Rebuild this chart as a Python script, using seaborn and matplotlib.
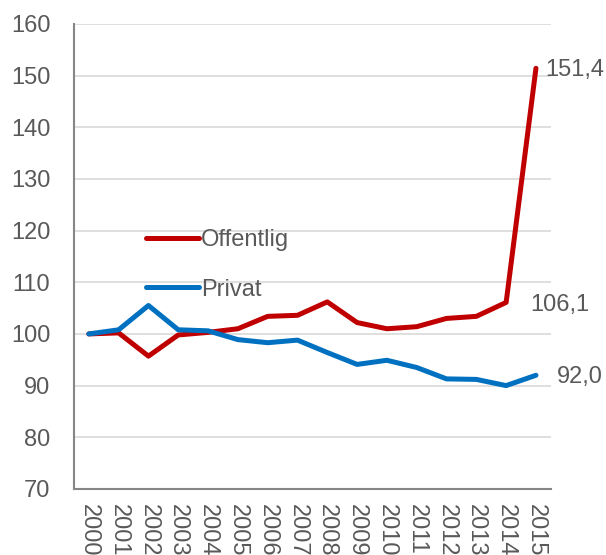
import matplotlib
matplotlib.use('Agg')
import matplotlib.pyplot as plt
import numpy as np
import pandas as pd
import seaborn as sns

# data
years = [str(y) for y in range(2000, 2016)]
offentlig = [100.0, 100.2, 95.7, 99.8, 100.3, 101.0, 103.4, 103.6, 106.2,
             102.2, 101.0, 101.4, 103.0, 103.4, 106.1, 151.4]
privat = [100.0, 100.8, 105.5, 100.8, 100.6, 98.9, 98.3, 98.8, 96.4,
          94.1, 94.9, 93.5, 91.3, 91.2, 90.0, 92.0]
series_names = ['Offentlig', 'Privat']
end_labels = ['151,4', '106,1', '92,0']
colors = {'Offentlig': '#C00000', 'Privat': '#0070C0'}

df = pd.DataFrame({'year': years * 2,
                   'value': offentlig + privat,
                   'serie': [series_names[0]] * len(years) + [series_names[1]] * len(years)})

sns.set_style('white')
plt.rcParams['font.family'] = ['Liberation Sans', 'DejaVu Sans']
text_col = '#595959'
fs = 17

fig = plt.figure(figsize=(6.06, 5.55), dpi=100)
ax = fig.add_axes([0.122, 0.119, 0.787, 0.838])

sns.lineplot(data=df, x='year', y='value', hue='serie', palette=colors,
             linewidth=3.6, sort=False, ax=ax)

ax.set_xlim(-0.5, len(years) - 0.5)
ax.set_ylim(70, 160)
ax.set_yticks(np.arange(70, 161, 10))
ax.yaxis.grid(True, color='#d9d9d9', linewidth=1.2)
ax.xaxis.grid(False)
ax.set_axisbelow(True)
ax.set_xlabel('')
ax.set_ylabel('')
for s in ['top', 'right']:
    ax.spines[s].set_visible(False)
for s in ['left', 'bottom']:
    ax.spines[s].set_color('#868686')
    ax.spines[s].set_linewidth(1.5)
ax.tick_params(axis='both', length=0, labelsize=fs, labelcolor=text_col)
ax.tick_params(axis='y', pad=17)
ax.tick_params(axis='x', pad=11)
for lab in ax.get_xticklabels():
    lab.set_rotation(-90)
    lab.set_ha('center')
    lab.set_va('top')

# end value labels
ax.annotate(end_labels[0], xy=(15, offentlig[15]), xytext=(9, -2),
            textcoords='offset pixels', fontsize=fs, color=text_col,
            ha='left', va='center')
ax.annotate(end_labels[1], xy=(15, offentlig[14]), xytext=(-6, -3),
            textcoords='offset pixels', fontsize=fs, color=text_col,
            ha='left', va='center')
ax.annotate(end_labels[2], xy=(15, privat[15]), xytext=(21, -2),
            textcoords='offset pixels', fontsize=fs, color=text_col,
            ha='left', va='center')

leg = ax.legend(loc='upper left', bbox_to_anchor=(0.106, 0.605), frameon=False,
                fontsize=fs, handlelength=2.25, handletextpad=0.1,
                labelspacing=1.18)
for t in leg.get_texts():
    t.set_color(text_col)

fig.savefig('out.png', dpi=100)
